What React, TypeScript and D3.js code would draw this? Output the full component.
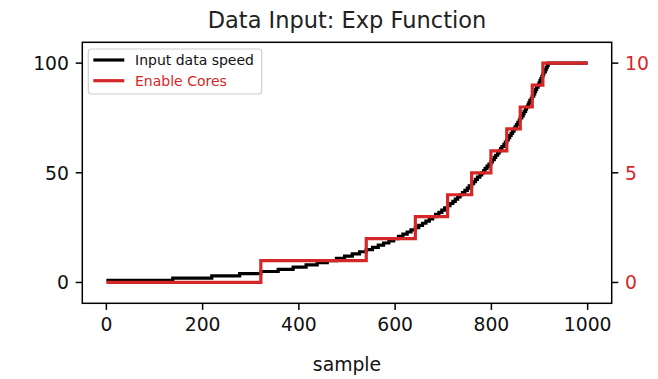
import React from "react";
import * as d3 from "d3";

// Sample index at which the input speed reaches each integer value 1..100
const speedStepStarts: number[] = [
  0, 138, 219, 277, 321, 357, 388, 415, 438, 459,
  478, 495, 511, 526, 540, 553, 565, 576, 587, 597,
  607, 616, 625, 633, 642, 649, 657, 664, 671, 678,
  684, 691, 697, 703, 709, 714, 720, 725, 730, 735,
  740, 745, 750, 754, 759, 763, 767, 771, 776, 780,
  784, 787, 791, 795, 799, 802, 806, 809, 813, 816,
  819, 822, 826, 829, 832, 835, 838, 841, 844, 847,
  849, 852, 855, 858, 860, 863, 866, 868, 871, 873,
  876, 878, 880, 883, 885, 888, 890, 892, 894, 897,
  899, 901, 903, 905, 907, 909, 912, 914, 916, 918,
];

// Sample index at which the number of enabled cores changes, and the core count
const coreStepStarts: number[] = [0, 321, 540, 642, 709, 759, 799, 832, 860, 885, 907];
const coreCounts: number[] = [0, 1, 2, 3, 4, 5, 6, 7, 8, 9, 10];

const lastSample = 1000;
const xTicks: number[] = [0, 200, 400, 600, 800, 1000];
const speedTicks: number[] = [0, 50, 100];
const coreTicks: number[] = [0, 5, 10];

const RED = "#d62728";
const FONT = "'DejaVu Sans', sans-serif";

type Pt = { x: number; y: number };

export default function App() {
  const W = 658;
  const H = 379;
  const left = 82.3;
  const right = 611.7;
  const top = 42.3;
  const bottom = 303.3;

  const x = d3.scaleLinear().domain([-50, 1050]).range([left, right]);
  const ySpeed = d3.scaleLinear().domain([-9.5, 109.5]).range([bottom, top]);
  const yCores = d3.scaleLinear().domain([-0.95, 10.95]).range([bottom, top]);

  const speedPts: Pt[] = speedStepStarts.map((s, i) => ({ x: s, y: i + 1 }));
  speedPts.push({ x: lastSample, y: 100 });
  const corePts: Pt[] = coreStepStarts.map((s, i) => ({ x: s, y: coreCounts[i] }));
  corePts.push({ x: lastSample, y: coreCounts[coreCounts.length - 1] });

  const speedLine = d3
    .line<Pt>()
    .x((d) => x(d.x))
    .y((d) => ySpeed(d.y))
    .curve(d3.curveStepAfter);
  const coreLine = d3
    .line<Pt>()
    .x((d) => x(d.x))
    .y((d) => yCores(d.y))
    .curve(d3.curveStepAfter);

  const tickLen = 6.6;
  const tickFs = 18.8;
  const lw = 3.2;

  return (
    <svg
      width={W}
      height={H}
      style={{ position: "absolute", left: 0, top: 0, background: "#fff" }}
      fontFamily={FONT}
    >
      <rect x={0} y={0} width={W} height={H} fill="#fff" />
      <text x={(left + right) / 2} y={28} textAnchor="middle" fontSize={22.5} fill="#222">
        Data Input: Exp Function
      </text>

      <defs>
        <clipPath id="plot-area">
          <rect x={left} y={top} width={right - left} height={bottom - top} />
        </clipPath>
      </defs>

      <g clipPath="url(#plot-area)">
        <path d={speedLine(speedPts) ?? ""} fill="none" stroke="#000" strokeWidth={lw} />
        <path d={coreLine(corePts) ?? ""} fill="none" stroke={RED} strokeWidth={lw} />
      </g>

      {/* frame */}
      <rect
        x={left}
        y={top}
        width={right - left}
        height={bottom - top}
        fill="none"
        stroke="#000"
        strokeWidth={1.5}
      />

      {/* bottom axis */}
      {xTicks.map((t) => (
        <g key={`x${t}`}>
          <line x1={x(t)} x2={x(t)} y1={bottom} y2={bottom + tickLen} stroke="#000" strokeWidth={1.5} />
          <text x={x(t)} y={330.5} textAnchor="middle" fontSize={tickFs} fill="#111">
            {t}
          </text>
        </g>
      ))}
      <text x={(left + right) / 2} y={371} textAnchor="middle" fontSize={tickFs} fill="#111">
        sample
      </text>

      {/* left axis: input speed */}
      {speedTicks.map((t) => (
        <g key={`l${t}`}>
          <line x1={left - tickLen} x2={left} y1={ySpeed(t)} y2={ySpeed(t)} stroke="#000" strokeWidth={1.5} />
          <text x={69} y={ySpeed(t) + 6.8} textAnchor="end" fontSize={tickFs} fill="#111">
            {t}
          </text>
        </g>
      ))}

      {/* right axis: enabled cores */}
      {coreTicks.map((t) => (
        <g key={`r${t}`}>
          <line x1={right} x2={right + tickLen} y1={yCores(t)} y2={yCores(t)} stroke="#000" strokeWidth={1.5} />
          <text x={625} y={yCores(t) + 6.8} textAnchor="start" fontSize={tickFs} fill={RED}>
            {t}
          </text>
        </g>
      ))}

      {/* legend */}
      <g>
        <rect
          x={88.3}
          y={49}
          width={173.4}
          height={45}
          rx={3}
          fill="#fff"
          fillOpacity={0.8}
          stroke="#d0d0d0"
          strokeWidth={1.2}
        />
        <line x1={93.3} x2={124.3} y1={60} y2={60} stroke="#000" strokeWidth={lw} />
        <text x={135} y={65} fontSize={14} fill="#111">
          Input data speed
        </text>
        <line x1={93.3} x2={124.3} y1={80.7} y2={80.7} stroke={RED} strokeWidth={lw} />
        <text x={135} y={85.7} fontSize={14} fill={RED}>
          Enable Cores
        </text>
      </g>
    </svg>
  );
}
